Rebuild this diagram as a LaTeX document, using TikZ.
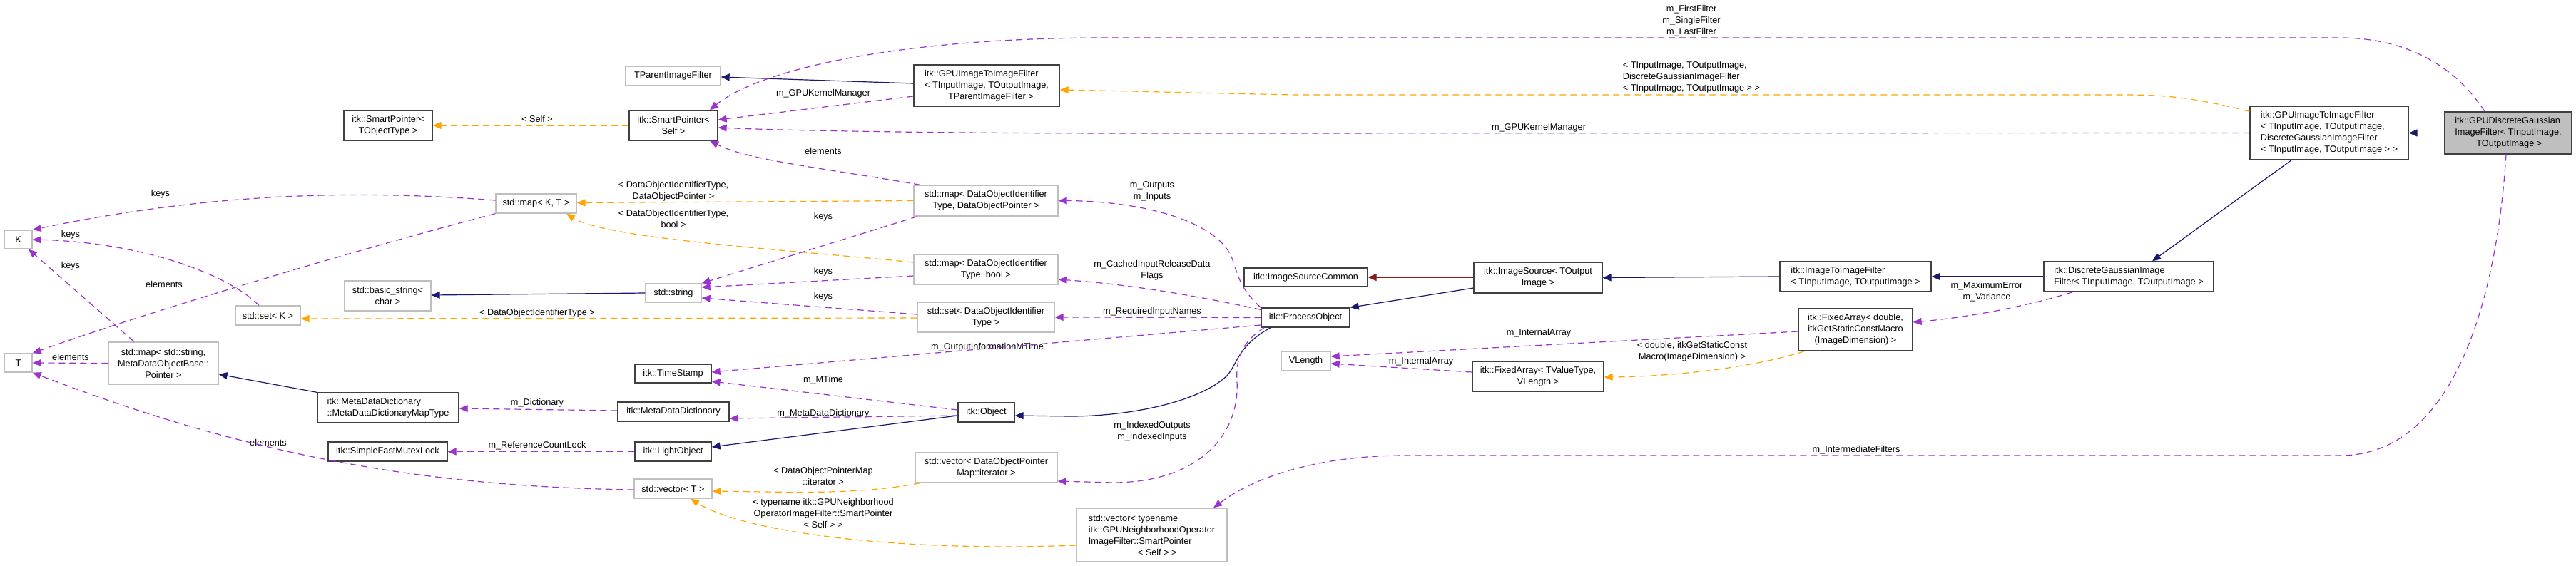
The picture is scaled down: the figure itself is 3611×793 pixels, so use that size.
\documentclass[tikz,border=0pt]{standalone}
\usepackage{fontspec}
\setmainfont{Liberation Sans}
\usetikzlibrary{arrows.meta}
\definecolor{inh-blue}{HTML}{191970}
\definecolor{use-purple}{HTML}{9A32CD}
\definecolor{tpl-orange}{HTML}{FFA500}
\definecolor{prot-red}{HTML}{8B1A1A}
\definecolor{box-dark}{HTML}{404040}
\definecolor{box-gray}{HTML}{BFBFBF}
\tikzset{
  cls/.style={draw=box-dark, line width=1.3pt, fill=white, inner sep=0pt, align=center},
  ext/.style={draw=box-gray, line width=1.3pt, fill=white, inner sep=0pt, align=center},
  lbl/.style={inner sep=0pt, align=center},
  tipx/.style={-{Triangle[length=12pt,width=10pt]}},
  inh/.style={draw=inh-blue, line width=1.2pt, tipx},
  prot/.style={draw=prot-red, line width=1.2pt, tipx},
  tpl/.style={draw=tpl-orange, line width=1.2pt, dash pattern=on 9pt off 6pt, tipx},
  use/.style={draw=use-purple, line width=1.2pt, dash pattern=on 9pt off 6pt, tipx}
}
\begin{document}
\begin{tikzpicture}[x=1pt, y=-1pt, every node/.style={font=\fontsize{12.7}{16}\selectfont}]
  \useasboundingbox (0,0) rectangle (3611,793);
  \node[ext, minimum width=39, minimum height=26] (kk) at (25.5,336) {K};
  \node[ext, minimum width=39, minimum height=26] (tt) at (25.5,509) {T};
  \node[ext, minimum width=154, minimum height=59] (mapstr) at (229,509.5) {std::map< std::string,\\ MetaDataObjectBase::\\ Pointer >};
  \node[ext, minimum width=91, minimum height=27] (setk) at (375.5,442.5) {std::set< K >};
  \node[ext, minimum width=113, minimum height=27] (mapkt) at (751.5,285.5) {std::map< K, T >};
  \node[cls, minimum width=124, minimum height=42] (sptobj) at (544,176) {itk::SmartPointer<\\ TObjectType >};
  \node[ext, minimum width=121, minimum height=42] (basicstr) at (543.5,415) {std::basic\_string<\\ char >};
  \node[cls, minimum width=198, minimum height=42, align=left] (dictmap) at (544,572) {itk::MetaDataDictionary\\::MetaDataDictionaryMapType};
  \node[cls, minimum width=167, minimum height=27] (mutex) at (543.5,633.5) {itk::SimpleFastMutexLock};
  \node[ext, minimum width=133, minimum height=27] (tparent) at (943.5,106.5) {TParentImageFilter};
  \node[cls, minimum width=124, minimum height=42] (spself) at (944,176) {itk::SmartPointer<\\ Self >};
  \node[ext, minimum width=78, minimum height=26] (stdstr) at (944,411) {std::string};
  \node[cls, minimum width=107, minimum height=26] (tstamp) at (943.5,524) {itk::TimeStamp};
  \node[cls, minimum width=156, minimum height=27] (mddict) at (944,577.5) {itk::MetaDataDictionary};
  \node[cls, minimum width=107, minimum height=27] (lightobj) at (943.5,633.5) {itk::LightObject};
  \node[ext, minimum width=109, minimum height=27] (vect) at (943.5,685.5) {std::vector< T >};
  \node[cls, minimum width=204, minimum height=58, align=left] (gputiti) at (1383,120) {itk::GPUImageToImageFilter\\< TInputImage, TOutputImage,\\\hspace*{33pt}TParentImageFilter >};
  \node[ext, minimum width=202, minimum height=43] (mapdop) at (1382,281.5) {std::map< DataObjectIdentifier\\Type, DataObjectPointer >};
  \node[ext, minimum width=202, minimum height=42] (mapbool) at (1382,378) {std::map< DataObjectIdentifier\\Type, bool >};
  \node[ext, minimum width=192, minimum height=42] (setdoi) at (1382,445) {std::set< DataObjectIdentifier\\Type >};
  \node[cls, minimum width=79, minimum height=27] (object) at (1382.5,578.5) {itk::Object};
  \node[ext, minimum width=199, minimum height=42] (veciter) at (1382.5,656) {std::vector< DataObjectPointer\\Map::iterator >};
  \node[cls, minimum width=173, minimum height=26] (srccommon) at (1830.5,389) {itk::ImageSourceCommon};
  \node[cls, minimum width=124, minimum height=27] (procobj) at (1830,445.5) {itk::ProcessObject};
  \node[ext, minimum width=69, minimum height=27] (vlength) at (1830.5,506.5) {VLength};
  \node[ext, minimum width=211, minimum height=75, align=left] (vecgpu) at (1614.5,750.5) {std::vector< typename\\ itk::GPUNeighborhoodOperator\\ImageFilter::SmartPointer\\\hspace*{69pt}< Self > >};
  \node[cls, minimum width=180, minimum height=43] (imgsource) at (2156,389.5) {itk::ImageSource< TOutput\\ Image >};
  \node[cls, minimum width=184, minimum height=42] (fixedtv) at (2156,528) {itk::FixedArray< TValueType,\\ VLength >};
  \node[cls, minimum width=212, minimum height=42, align=left] (imgtoimg) at (2601,388) {itk::ImageToImageFilter\\< TInputImage, TOutputImage >};
  \node[cls, minimum width=160, minimum height=59] (fixeddbl) at (2601,462.5) {itk::FixedArray< double,\\ itkGetStaticConstMacro\\ (ImageDimension) >};
  \node[cls, minimum width=238, minimum height=42, align=left] (dgfilter) at (2984,388) {itk::DiscreteGaussianImage\\Filter< TInputImage, TOutputImage >};
  \node[cls, minimum width=222, minimum height=75, align=left] (gpudg) at (3265,186.5) {itk::GPUImageToImageFilter\\< TInputImage, TOutputImage,\\ DiscreteGaussianImageFilter\\< TInputImage, TOutputImage > >};
  \node[cls, fill=box-gray, minimum width=178, minimum height=59, align=left] (main) at (3516,186.5) {itk::GPUDiscreteGaussian\\ImageFilter< TInputImage,\\\hspace*{30pt}TOutputImage >};
  \node[lbl] (lself) at (753,167) {< Self >};
  \node[lbl] (ldopt) at (944,268) {< DataObjectIdentifierType,\\ DataObjectPointer >};
  \node[lbl] (lboolt) at (944,306.5) {< DataObjectIdentifierType,\\ bool >};
  \node[lbl] (ldoit) at (753,439) {< DataObjectIdentifierType >};
  \node[lbl] (litert) at (1154,668) {< DataObjectPointerMap\\ ::iterator >};
  \node[lbl] (lgput) at (1154,720) {< typename itk::GPUNeighborhood\\ OperatorImageFilter::SmartPointer\\ < Self > >};
  \node[lbl, align=left] (ldgt) at (2371,108) {< TInputImage, TOutputImage,\\ DiscreteGaussianImageFilter\\< TInputImage, TOutputImage > >};
  \node[lbl] (ldblt) at (2372,493) {< double, itkGetStaticConst\\ Macro(ImageDimension) >};
  \node[lbl] (lfilters) at (2371,29) {m\_FirstFilter\\ m\_SingleFilter\\ m\_LastFilter};
  \node[lbl] (lkerna) at (1154,131) {m\_GPUKernelManager};
  \node[lbl] (lkernb) at (2157,179) {m\_GPUKernelManager};
  \node[lbl] (lelemsp) at (1154,212) {elements};
  \node[lbl] (lkeysa) at (1154,304) {keys};
  \node[lbl] (lkeysb) at (1154,381) {keys};
  \node[lbl] (lkeysc) at (1154,416) {keys};
  \node[lbl] (loutin) at (1615,268) {m\_Outputs\\ m\_Inputs};
  \node[lbl] (lcached) at (1615,379) {m\_CachedInputReleaseData\\ Flags};
  \node[lbl] (lreq) at (1615,437) {m\_RequiredInputNames};
  \node[lbl] (loutmt) at (1384,487) {m\_OutputInformationMTime};
  \node[lbl] (lmtime) at (1154,533) {m\_MTime};
  \node[lbl] (lmdd) at (1154,580) {m\_MetaDataDictionary};
  \node[lbl] (ldict) at (753,565) {m\_Dictionary};
  \node[lbl] (lreflock) at (753,625) {m\_ReferenceCountLock};
  \node[lbl] (lidx) at (1615,605) {m\_IndexedOutputs\\ m\_IndexedInputs};
  \node[lbl] (linter) at (2602,631) {m\_IntermediateFilters};
  \node[lbl] (lmaxvar) at (2785,409) {m\_MaximumError\\ m\_Variance};
  \node[lbl] (linta) at (2157,467) {m\_InternalArray};
  \node[lbl] (lintb) at (1992,507) {m\_InternalArray};
  \node[lbl] (lkeysk) at (99,329) {keys};
  \node[lbl] (lkeysm) at (99,373) {keys};
  \node[lbl] (lkeyst) at (225,272) {keys};
  \node[lbl] (lelema) at (230,399) {elements};
  \node[lbl] (lelemb) at (99,501) {elements};
  \node[lbl] (lelemc) at (376,621) {elements};
  \draw[inh] ([yshift=3pt]gputiti.west) -- ([yshift=-1.5pt]tparent.east);
  \draw[inh] ([xshift=-53pt]gpudg.south) -- ([xshift=33pt]dgfilter.north);
  \draw[inh] (main.west) -- (gpudg.east);
  \draw[inh] (dgfilter.west) -- (imgtoimg.east);
  \draw[inh] (imgtoimg.west) -- (imgsource.east);
  \draw[inh] ([yshift=-14.5pt]imgsource.west) -- (procobj.north east);
  \draw[prot] ([yshift=0.5pt]imgsource.west) -- (srccommon.east);
  \draw[inh] ([xshift=-49pt]procobj.south) .. controls (1735,485) and (1735,510) .. (1720,527) .. controls (1680,565) and (1580,584) .. (1500,584) -- ([yshift=-4.5pt]object.east);
  \draw[inh] ([yshift=-4.5pt]object.west) -- ([yshift=6.5pt]lightobj.east);
  \draw[inh] (dictmap.north west) -- ([yshift=-15.5pt]mapstr.east);
  \draw[inh] (stdstr.west) -- ([yshift=1pt]basicstr.east);
  \draw[tpl] (spself.west) -- (sptobj.east);
  \draw[tpl] (mapdop.west) -- ([yshift=1pt]mapkt.east);
  \draw[tpl] ([yshift=10pt]mapbool.west) .. controls (1100,350) and (850,335) .. ([xshift=42.5pt]mapkt.south);
  \draw[tpl] ([yshift=-1pt]setdoi.west) -- ([yshift=-4.5pt]setk.east);
  \draw[tpl] ([xshift=-92.5pt]veciter.south) .. controls (1200,695) and (1100,690) .. ([yshift=-3.5pt]vect.east);
  \draw[tpl] ([yshift=-14.5pt]vecgpu.west) .. controls (1250,775) and (1040,745) .. ([xshift=24.5pt]vect.south);
  \draw[tpl] ([yshift=-8pt]gpudg.north west) .. controls (3080,138) and (3040,133) .. (2980,133) -- (1820,133) .. controls (1700,131) and (1600,128) .. ([yshift=-6pt]gputiti.east);
  \draw[tpl] ([xshift=9pt]fixeddbl.south west) .. controls (2460,515) and (2350,528) .. ([yshift=-1pt]fixedtv.east);
  \draw[use] ([xshift=-33pt]main.north) .. controls (3440,90) and (3370,53) .. (3280,53) -- (1550,53) .. controls (1250,53) and (1060,100) .. ([xshift=51pt]spself.north);
  \draw[use] ([yshift=-15pt]gputiti.west) -- ([yshift=8pt]spself.east);
  \draw[use] (gpudg.west) -- (1600,187) .. controls (1300,187) and (1100,183) .. ([yshift=-3pt]spself.east);
  \draw[use] ([xshift=-92pt]mapdop.north) .. controls (1150,235) and (1050,225) .. ([xshift=51pt]spself.south);
  \draw[use] ([xshift=-96pt]mapdop.south) -- (stdstr.north east);
  \draw[use] ([yshift=-9pt]mapbool.west) -- ([yshift=8pt]stdstr.east);
  \draw[use] ([yshift=4pt]setdoi.west) -- ([yshift=-7pt]stdstr.east);
  \draw[use] (procobj.north west) .. controls (1738,405) and (1735,385) .. (1728,365) .. controls (1710,310) and (1600,282) .. (mapdop.east);
  \draw[use] ([yshift=-3pt]procobj.north west) .. controls (1700,420) and (1600,400) .. ([yshift=-14pt]mapbool.east);
  \draw[use] (procobj.west) -- (setdoi.east);
  \draw[use] ([yshift=-10.5pt]procobj.west) -- ([yshift=2pt]tstamp.east);
  \draw[use] ([yshift=3.5pt]object.west) -- ([yshift=-11pt]tstamp.east);
  \draw[use] ([yshift=-4.5pt]object.west) -- ([yshift=-9.5pt]mddict.east);
  \draw[use] ([yshift=1.5pt]mddict.west) -- ([yshift=-1pt]dictmap.east);
  \draw[use] (lightobj.west) -- (mutex.east);
  \draw[use] ([xshift=-58pt]procobj.south) .. controls (1740,480) and (1732,505) .. (1734,535) .. controls (1738,610) and (1680,677) .. (1560,677) -- ([yshift=-19pt]veciter.east);
  \draw[use] ([xshift=-3pt]main.south) .. controls (3500,420) and (3440,639) .. (3280,639) -- (1970,639) .. controls (1850,639) and (1760,668) .. ([xshift=86.5pt]vecgpu.north);
  \draw[use] ([xshift=41pt]dgfilter.south west) .. controls (2840,430) and (2760,445) .. ([yshift=10.5pt]fixeddbl.east);
  \draw[use] ([yshift=-2.5pt]fixeddbl.west) -- ([yshift=6.5pt]vlength.east);
  \draw[use] ([yshift=6pt]fixedtv.west) -- ([yshift=-3.5pt]vlength.east);
  \draw[use] ([xshift=-12.5pt]setk.north) .. controls (320,385) and (200,340) .. (kk.east);
  \draw[use] ([xshift=-41pt]mapstr.north) -- ([xshift=14.5pt]kk.south);
  \draw[use] ([yshift=4.5pt]mapkt.west) .. controls (450,262) and (250,280) .. (kk.north east);
  \draw[use] (mapkt.south west) .. controls (500,350) and (200,440) .. (tt.north east);
  \draw[use] (mapstr.west) -- (tt.east);
  \draw[use] ([yshift=-1.5pt]vect.west) .. controls (600,683) and (350,640) .. (tt.south east);
\end{tikzpicture}
\end{document}
